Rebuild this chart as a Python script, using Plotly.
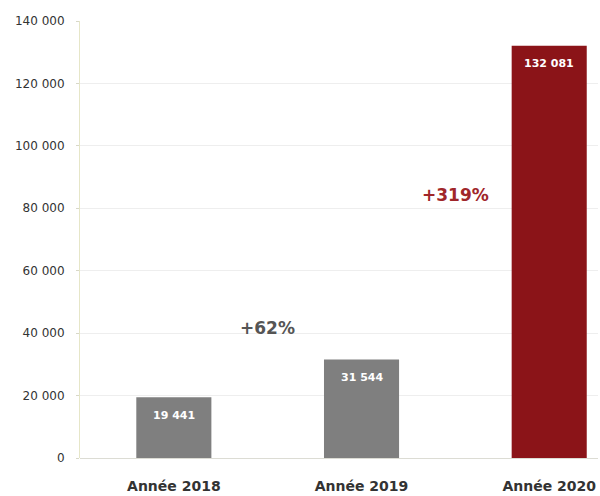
import plotly.graph_objects as go

categories = ["Année 2018", "Année 2019", "Année 2020"]
values = [19441, 31544, 132081]
value_labels = ["19 441", "31 544", "132 081"]
bar_colors = ["#7f7f7f", "#7f7f7f", "#8b1418"]
growth_labels = ["+62%", "+319%"]
growth_pos_y = [41500, 84300]
growth_colors = ["#555555", "#a0262a"]
y_ticks = [0, 20000, 40000, 60000, 80000, 100000, 120000, 140000]
y_tick_text = ["0", "20 000", "40 000", "60 000", "80 000", "100 000", "120 000", "140 000"]

font_family = "'DejaVu Sans', sans-serif"

fig = go.Figure()
fig.add_trace(go.Bar(
    x=[0, 1, 2], y=values, width=0.4,
    marker=dict(color=bar_colors, line=dict(width=0)),
    hoverinfo="y", showlegend=False,
))

for i, (v, lab) in enumerate(zip(values, value_labels)):
    fig.add_annotation(x=i, y=v, text="<b>" + lab + "</b>", showarrow=False,
                       yshift=-18, font=dict(size=11, color="white", family=font_family))

for i, (lab, yy, col) in enumerate(zip(growth_labels, growth_pos_y, growth_colors)):
    fig.add_annotation(x=i + 0.5, y=yy, text="<b>" + lab + "</b>", showarrow=False,
                       font=dict(size=17, color=col, family=font_family))

fig.update_layout(
    width=600, height=496,
    margin=dict(l=80, r=2, t=21, b=38),
    plot_bgcolor="white", paper_bgcolor="white",
    xaxis=dict(
        range=[-0.5, 2.26], tickvals=[0, 1, 2],
        ticktext=["<b>" + c + "</b>" for c in categories],
        showgrid=False, zeroline=False, showline=False,
        tickfont=dict(size=14, color="#333333", family=font_family),
        ticks="", automargin=False, ticklabelstandoff=18,
    ),
    yaxis=dict(
        range=[0, 140000], tickvals=y_ticks, ticktext=y_tick_text,
        showgrid=True, gridcolor="#eeeeee", gridwidth=1,
        zeroline=True, zerolinecolor="#dcdcd4", zerolinewidth=1,
        showline=True, linecolor="#e6e6c8", linewidth=1,
        ticks="outside", ticklen=3, tickcolor="#d8d8c8",
        tickfont=dict(size=12, color="#333333", family=font_family),
        ticklabelstandoff=9, automargin=False,
    ),
)

fig.write_html("out.html", config={"displayModeBar": False},
               post_script="document.body.style.margin='0';")
